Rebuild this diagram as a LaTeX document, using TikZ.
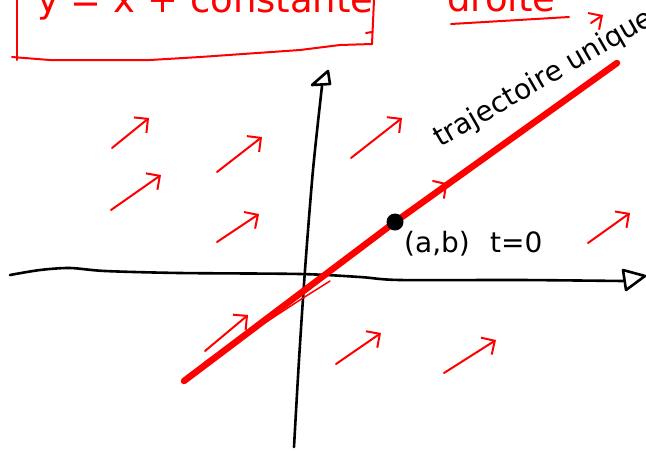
\documentclass[tikz,border=0pt]{standalone}
\usepackage{fontspec}
\setmainfont{DejaVu Sans}
\usetikzlibrary{arrows.meta}
\begin{document}
\begin{tikzpicture}[x=1pt,y=-1pt,
  redpen/.style={draw=red, line width=2pt, line cap=round, line join=round},
  field/.style={redpen, -{Straight Barb[length=10pt,width=20pt,line width=2pt]}},
  axis/.style={draw=black, line width=2.6pt, line cap=round, line join=round},
  traj/.style={draw=red, line width=6.5pt, line cap=round, line join=round},
  hand/.style={inner sep=0pt, anchor=base west},
  big/.style={font=\fontsize{37}{37}\selectfont},
]
\useasboundingbox (0,0) rectangle (646,451);
\clip (0,0) rectangle (646,451);

% top: equation in a red box, and "droite"
\node[hand, big, text=red] (eq) at (37,12) {y = x + constante};
\draw[redpen] (17,0) -- (17,60);
\draw[redpen] (12,57) -- (50,60) -- (150,60) -- (200,57) -- (300,50) -- (340,45) -- (372,44);
\draw[redpen] (374,0) -- (372,44);
\draw[redpen] (366,33) -- (372,32);

\node[hand, big, text=red] (dr) at (447,11) {droite};
\coordinate (ul1) at (451,24); \coordinate (ul2) at (569,17);
\draw[redpen] (ul1) -- (ul2);
\coordinate (sa1) at (591,23); \coordinate (sa2) at (603,15);
\draw[field] (sa1) -- (sa2);

% axes
\draw[axis] plot[smooth] coordinates {(294,447) (299,360) (305,270) (313,170) (322,86)};
\draw[axis] (312,85) -- (330,84) -- (328,71) -- cycle;
\draw[axis] plot[smooth] coordinates {(10,275) (40,270) (70,268) (105,271) (180,273) (300,274) (360,277) (400,280) (520,280) (623,281)};
\draw[axis] (623,270) -- (645,276) -- (626,290) -- cycle;

% vector field
\foreach \ax/\ay/\bx/\by in {112/148/149/118, 217/172/262/137, 111/210/161/175,
  217/242/259/214, 351/158/402/118, 588/243/630/213, 205/351/248/315,
  336/364/381/333, 444/373/496/340}{
  \draw[field] (\ax,\ay) -- (\bx,\by);
}

% trajectory
\coordinate (p0) at (184,381);
\coordinate (ab) at (395,222);
\coordinate (p1) at (617,63);
\draw[traj] (p0) -- (ab) -- (p1);
\draw[draw=red, line width=1.5pt, line cap=round] (205,362) -- (303,298) -- (330,281);
\draw[redpen] (433,181) -- (446,184) -- (444,198);
\fill (ab) circle (8.5pt);

% labels
\node[hand, rotate=30, font=\fontsize{28}{28}\selectfont] (tr) at (440,148) {trajectoire unique};
\node[hand, font=\fontsize{28}{28}\selectfont] (lab) at (404,252) {(a,b)};
\node[hand, font=\fontsize{28}{28}\selectfont] (t0) at (490,252) {t=0};
\end{tikzpicture}
\end{document}
